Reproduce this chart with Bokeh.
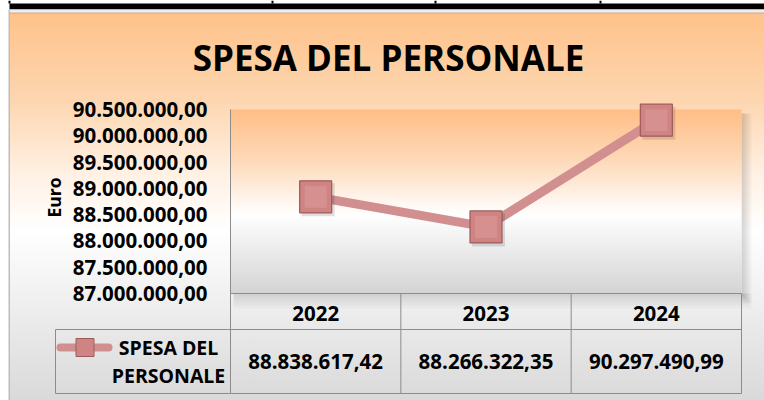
import numpy as np
from bokeh.plotting import figure
from bokeh.models import Range1d, FixedTicker, LinearAxis, Grid
from bokeh.core.properties import value
from bokeh.embed import file_html
from bokeh.resources import INLINE

# ---------------- data ----------------
years = ["2022", "2023", "2024"]
spesa = [88838617.42, 88266322.35, 90297490.99]
tick_values = [87000000, 87500000, 88000000, 88500000,
               89000000, 89500000, 90000000, 90500000]
tick_labels = ["87.000.000,00", "87.500.000,00", "88.000.000,00", "88.500.000,00",
               "89.000.000,00", "89.500.000,00", "90.000.000,00", "90.500.000,00"]
chart_title = "SPESA DEL PERSONALE"
series_lines = ["SPESA DEL", "PERSONALE"]
y_title = "Euro"


def it_fmt(v):
    s = f"{v:,.2f}"
    return s.replace(",", "X").replace(".", ",").replace("X", ".")


# ---------------- layout (canvas px, top-left origin) ----------------
W, H = 764, 400
PL, PR, PT, PB = 230, 741, 109, 293          # plot area
ROW1, ROW2, LEG_L = 329, 393, 55             # data table rows / legend cell
FONT = "Open Sans"
GRID = "#8C8C8C"
LINE_C = "#D18F8F"
MARK_C = "#CF8383"
MARK_L = "#9E5A5A"
FS = "20.5px"

n = len(years)
idx = list(range(n))
colw = (PR - PL) / n
ylo, yhi = tick_values[0], tick_values[-1]
per_px = (yhi - ylo) / (PB - PT)

p = figure(width=W, height=H, x_range=Range1d(0, W), y_range=Range1d(H, 0),
           x_axis_location=None, y_axis_location=None,
           output_backend="svg", toolbar_location=None, min_border=0)
p.center = [r for r in p.center if not isinstance(r, Grid)]
p.renderers = [r for r in p.renderers if not isinstance(r, Grid)]
p.extra_x_ranges = {"cat": Range1d(-0.5 - PL / colw, -0.5 + (W - PL) / colw)}
p.extra_y_ranges = {"euro": Range1d(ylo - (H - PB) * per_px, yhi + PT * per_px)}
p.background_fill_color = None
p.border_fill_color = None
p.outline_line_color = None
p.styles = {
    "background": (
        "linear-gradient(to bottom, #ffc28a 0px, #fdd6b0 87px, #fff2e6 165px,"
        " #ffffff 218px, #d9d9d9 387px) 9px 13px / calc(100% - 9px) calc(100% - 13px)"
        " no-repeat, #ffffff"
    )
}

# top strip (edge of the table above) and left border
p.quad(left=[9], right=[W], top=[3], bottom=[9], fill_color="black", line_color=None)
p.quad(left=[9], right=[W], top=[9], bottom=[12], fill_color="#EEEEEE", line_color=None)
p.quad(left=[9], right=[W], top=[12], bottom=[13], fill_color="#C9A88A", line_color=None)
p.quad(left=[8, 271, 434, 599], right=[10, 273, 436, 601], top=[0] * 4, bottom=[3] * 4,
       fill_color="black", line_color=None)
p.quad(left=[8], right=[9.5], top=[9], bottom=[H], fill_color="#BDBDBD", line_color=None)

# soft shadow of the plot area
for k in range(5):
    p.quad(left=[PR], right=[PR + 2 * (k + 1)], top=[PT + 4], bottom=[PB + 2 * (k + 1)],
           fill_color="black", fill_alpha=0.03, line_color=None)
    p.quad(left=[PL + 3], right=[PR + 2 * (k + 1)], top=[PB], bottom=[PB + 3 * (k + 1)],
           fill_color="black", fill_alpha=0.025, line_color=None)

# plot-area gradient (orange -> white -> grey)
stops = [(0.0, (255, 190, 134)), (0.28, (254, 218, 186)), (0.57, (255, 255, 255)),
         (1.0, (212, 212, 212))]


def grad(t):
    for (t0, c0), (t1, c1) in zip(stops, stops[1:]):
        if t <= t1:
            f = (t - t0) / (t1 - t0)
            return [round(c0[k] + (c1[k] - c0[k]) * f) for k in range(3)]
    return list(stops[-1][1])


N = PB - PT
img = np.zeros((N, 1), dtype=np.uint32)
view = img.view(dtype=np.uint8).reshape((N, 1, 4))
for i in range(N):
    r, g, b = grad(1 - (i + 0.5) / N)
    view[i, 0, :] = [r, g, b, 255]
p.image_rgba(image=[img], x=-0.5, y=ylo, dw=n, dh=yhi - ylo,
             x_range_name="cat", y_range_name="euro")

# ---------------- series ----------------
p.line(x=idx, y=spesa, line_color=LINE_C, line_width=9, line_join="round",
       x_range_name="cat", y_range_name="euro")
sh_x = [v + 2.5 / colw for v in idx]
sh_y = [v - 3 * per_px for v in spesa]
p.scatter(x=sh_x, y=sh_y, marker="square", size=33, fill_color="black", fill_alpha=0.12,
          line_color=None, x_range_name="cat", y_range_name="euro")
p.scatter(x=idx, y=spesa, marker="square", size=32, fill_color=MARK_C,
          line_color=MARK_L, line_width=1.2, x_range_name="cat", y_range_name="euro")
p.scatter(x=idx, y=spesa, marker="square", size=22, fill_color="#D99595",
          line_color=None, fill_alpha=0.7, x_range_name="cat", y_range_name="euro")

# ---------------- axes ----------------
yax = LinearAxis(x_range_name="cat", y_range_name="euro", fixed_location=-0.5,
                 bounds=(ylo, yhi), ticker=FixedTicker(ticks=tick_values))
yax.major_label_overrides = dict(zip(tick_values, tick_labels))
yax.major_tick_line_color = None
yax.minor_tick_line_color = None
yax.axis_line_color = GRID
yax.major_label_standoff = 17
yax.major_label_text_font = FONT
yax.major_label_text_font_style = "bold"
yax.major_label_text_font_size = FS
yax.major_label_text_color = "black"
p.add_layout(yax, "left")

xax = LinearAxis(x_range_name="cat", y_range_name="euro", fixed_location=ylo,
                 bounds=(-0.5, n - 0.5), ticker=FixedTicker(ticks=idx))
xax.major_label_overrides = dict(zip(idx, years))
xax.major_tick_line_color = None
xax.minor_tick_line_color = None
xax.axis_line_color = GRID
xax.major_label_standoff = 6
xax.major_label_text_font = FONT
xax.major_label_text_font_style = "bold"
xax.major_label_text_font_size = FS
xax.major_label_text_color = "black"
p.add_layout(xax, "below")

# y-axis title
p.text(x=[53], y=[197], text=[y_title], angle=np.pi / 2, text_align="center",
       text_baseline="middle", text_font=value(FONT), text_font_style="bold",
       text_font_size="17.5px", text_color="black")

# ---------------- data table ----------------
bx = [i - 0.5 for i in range(n + 1)]
p.segment(x0=bx, y0=[PB] * (n + 1), x1=bx, y1=[ROW2] * (n + 1), line_color=GRID,
          line_width=1, x_range_name="cat")
p.segment(x0=[LEG_L, LEG_L, LEG_L], y0=[ROW1, ROW2, ROW1],
          x1=[PL, PL, LEG_L], y1=[ROW1, ROW2, ROW2], line_color=GRID, line_width=1)
p.segment(x0=[-0.5, -0.5], y0=[ROW1, ROW2], x1=[n - 0.5, n - 0.5], y1=[ROW1, ROW2],
          line_color=GRID, line_width=1, x_range_name="cat")

p.text(x=idx, y=[(ROW1 + ROW2) / 2] * n, text=[it_fmt(v) for v in spesa],
       text_align="center", text_baseline="middle", text_font=value(FONT),
       text_font_style="bold", text_font_size=FS, text_color="black",
       x_range_name="cat")

# legend key
p.line(x=[60, 108], y=[347, 347], line_color=LINE_C, line_width=8, line_cap="round")
p.scatter(x=[84.5], y=[347], marker="square", size=18, fill_color=MARK_C,
          line_color=MARK_L, line_width=1)
p.text(x=[168] * len(series_lines), y=[347 + 28 * k for k in range(len(series_lines))],
       text=series_lines, text_align="center", text_baseline="middle",
       text_font=value(FONT), text_font_style="bold", text_font_size="19.5px",
       text_color="black")

# ---------------- title ----------------
p.text(x=[388], y=[57], text=[chart_title], text_align="center", text_baseline="middle",
       text_font=value(FONT), text_font_style="bold", text_font_size="35px",
       text_color="black")

open("out.html", "w").write(file_html(p, INLINE))
